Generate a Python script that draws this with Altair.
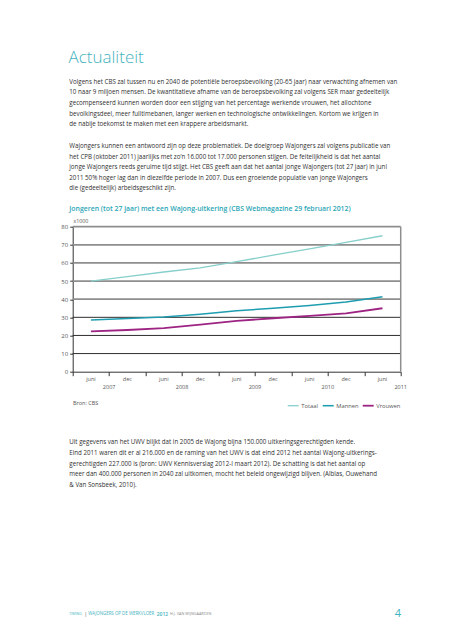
import altair as alt
import pandas as pd

# ---------------- data ----------------
periods = ["juni", "dec", "juni", "dec", "juni", "dec", "juni", "dec", "juni"]
years = ["2007", "2008", "2009", "2010", "2011"]
totaal = [50.0, 52.5, 55.0, 57.3, 60.7, 64.3, 67.8, 71.3, 75.0]
mannen = [28.5, 29.3, 30.2, 31.7, 33.6, 35.0, 36.5, 38.4, 41.4]
vrouwen = [22.3, 23.0, 24.0, 26.0, 28.0, 29.5, 30.8, 32.2, 35.0]
series_names = ["Totaal", "Mannen", "Vrouwen"]
series_colors = ["#86cfcb", "#1e9db0", "#9d2482"]
y_ticks = [0, 10, 20, 30, 40, 50, 60, 70, 80]
grid_vals = [10, 20, 30, 40, 50, 60, 70, 80]

heading = ["Actualiteit"]
chart_title = ["Jongeren (tot 27 jaar) met een Wajong-uitkering (CBS Webmagazine 29 februari 2012)"]
para1 = [
    "Volgens het CBS zal tussen nu en 2040 de potentiële beroepsbevolking (20-65 jaar) naar verwachting afnemen van",
    "10 naar 9 miljoen mensen.  De kwantitatieve afname van de beroepsbevolking zal volgens SER maar gedeeltelijk",
    "gecompenseerd kunnen worden door een stijging van het percentage werkende vrouwen, het allochtone",
    "bevolkingsdeel, meer fulltimebanen, langer werken en technologische ontwikkelingen. Kortom we krijgen in",
    "de nabije toekomst te maken met een krappere arbeidsmarkt.",
]
para2 = [
    "Wajongers kunnen een antwoord zijn op deze problematiek. De doelgroep Wajongers zal volgens publicatie van",
    "het CPB (oktober 2011) jaarlijks met zo’n 16.000 tot 17.000 personen stijgen. De feitelijkheid is dat het aantal",
    "jonge Wajongers reeds geruime tijd stijgt. Het CBS geeft aan dat het aantal jonge Wajongers (tot 27 jaar) in juni",
    "2011 50% hoger lag dan in diezelfde periode in 2007. Dus een groeiende populatie van jonge Wajongers",
    "die (gedeeltelijk) arbeidsgeschikt zijn.",
]
para3 = [
    "Uit gegevens van het UWV blijkt dat in 2005 de Wajong bijna 150.000 uitkeringsgerechtigden kende.",
    "Eind 2011 waren dit er al 216.000 en de raming van het UWV is dat eind 2012 het aantal Wajong-uitkerings-",
    "gerechtigden 227.000 is (bron: UWV Kennisverslag 2012-I maart 2012). De schatting is dat het aantal op",
    "meer dan 400.000 personen in 2040 zal uitkomen, mocht het beleid ongewijzigd blijven. (Alblas, Ouwehand",
    "& Van Sonsbeek, 2010).",
]
source = ["Bron: CBS"]
unit = ["x1000"]
footer_a = ["TIMING"]
footer_b = ["|"]
footer_c = ["WAJONGERS OP DE WERKVLOER"]
footer_d = ["2012"]
footer_e = ["H.J. VAN WIJNGAARDEN"]
page_no = ["4"]

# ---------------- layout ----------------
FONT = "Open Sans"
W, H = 328, 145
OX, OY = 72.7, 226.7  # page position of plot origin
TEAL = "#3fb3c0"
BODY = "#2f2f2f"
GREY = "#555555"

rows = []
for name, vals in zip(series_names, [totaal, mannen, vrouwen]):
    for i, v in enumerate(vals):
        rows.append({"series": name, "pos": i + 0.5, "value": v})
df_lines = pd.DataFrame(rows)

x_enc = alt.X(
    "pos:Q",
    scale=alt.Scale(domain=[0, 9], nice=False, zero=False),
    axis=alt.Axis(values=list(range(10)), labels=False, title=None, grid=False,
                  tickSize=4, tickColor="#333", domainColor="#333", domainWidth=1, tickWidth=1),
)
y_enc = alt.Y(
    "value:Q",
    scale=alt.Scale(domain=[0, 80], nice=False),
    axis=alt.Axis(values=y_ticks, title=None, grid=False, labelFontSize=6, labelColor=GREY,
                  labelFont=FONT, labelPadding=2, tickSize=3, tickColor="#333",
                  domainColor="#333", domainWidth=1, tickWidth=1),
)

grid = alt.Chart(pd.DataFrame({"value": grid_vals})).mark_rule().encode(
    y=y_enc,
    x=alt.value(0),
    x2=alt.value("width"),
    color=alt.condition("datum.value >= 40", alt.value("#8e8e8e"), alt.value("#2e2e2e")),
    strokeWidth=alt.condition("datum.value >= 40", alt.value(1.7), alt.value(1)),
)

right_border = alt.Chart(pd.DataFrame({"v": [0]})).mark_rule(color="#8e8e8e", strokeWidth=1.5).encode(
    x=alt.value("width"), y=alt.value(0), y2=alt.value("height")
)

lines = alt.Chart(df_lines).mark_line().encode(
    x=x_enc,
    y=y_enc,
    color=alt.Color(
        "series:N",
        scale=alt.Scale(domain=series_names, range=series_colors),
        legend=alt.Legend(orient="none", legendX=214, legendY=172.5, direction="horizontal",
                          title=None, symbolType="stroke", symbolStrokeWidth=2.2, symbolSize=120,
                          labelFontSize=5.8, labelColor=GREY, labelFont=FONT, columnPadding=0,
                          labelOffset=1.5, gridAlign="none", padding=0),
    ),
    strokeWidth=alt.StrokeWidth("series:N", scale=alt.Scale(domain=series_names, range=[1.3, 1.8, 1.8]), legend=None),
)

df_per = pd.DataFrame({"pos": [i + 0.5 for i in range(len(periods))], "lbl": periods})
per_text = alt.Chart(df_per).mark_text(fontSize=5.5, color=GREY, font=FONT, baseline="middle").encode(
    x=x_enc, y=alt.value(152), text="lbl:N"
)
df_yr = pd.DataFrame({"pos": [1, 3, 5, 7, 9], "lbl": years})
yr_text = alt.Chart(df_yr).mark_text(fontSize=5.5, color=GREY, font=FONT, baseline="middle").encode(
    x=x_enc, y=alt.value(160.5), text="lbl:N"
)


def page_text(lines_, px, py, size, color, spacing=10.6, weight="normal", align="left", baseline="middle"):
    df = pd.DataFrame({"t": lines_, "i": list(range(len(lines_)))})
    return (
        alt.Chart(df)
        .transform_calculate(py=f"{py - OY} + datum.i * {spacing}")
        .mark_text(align=align, baseline=baseline, fontSize=size, color=color, font=FONT, fontWeight=weight)
        .encode(x=alt.value(px - OX), y=alt.Y("py:Q", scale=None), text="t:N")
    )


texts = [
    page_text(heading, 68.5, 63.3, 17, TEAL, weight=300, baseline="alphabetic"),
    page_text(para1, 69.3, 81.7, 6.2, BODY),
    page_text(para2, 69.3, 145.9, 6.2, BODY),
    page_text(chart_title, 69.3, 209, 6.9, "#2ba6b6", weight=600),
    page_text(unit, 73.5, 221, 5.3, GREY),
    page_text(source, 73, 403.3, 5.5, GREY),
    page_text(para3, 69.3, 442.3, 6.2, BODY),
    page_text(footer_a, 69.3, 614.3, 3.6, TEAL),
    page_text(footer_b, 84.3, 614.3, 5.5, GREY),
    page_text(footer_c, 88.3, 614.3, 4.4, TEAL),
    page_text(footer_d, 156.7, 614.3, 5.0, TEAL, weight=600),
    page_text(footer_e, 170, 614.3, 3.8, "#8a8a8a"),
    page_text(page_no, 398, 613.5, 11, TEAL, align="center"),
]

chart = alt.layer(grid, right_border, lines, per_text, yr_text, *texts).properties(
    width=W,
    height=H,
    autosize=alt.AutoSizeParams(type="none"),
    padding={"left": OX - 8, "top": OY - 8, "right": 437 - (OX - 8) - W, "bottom": 624 - (OY - 8) - H},
    background="white",
).configure_view(stroke=None)

chart.save("out.html", embed_options={"renderer": "svg", "actions": False})
